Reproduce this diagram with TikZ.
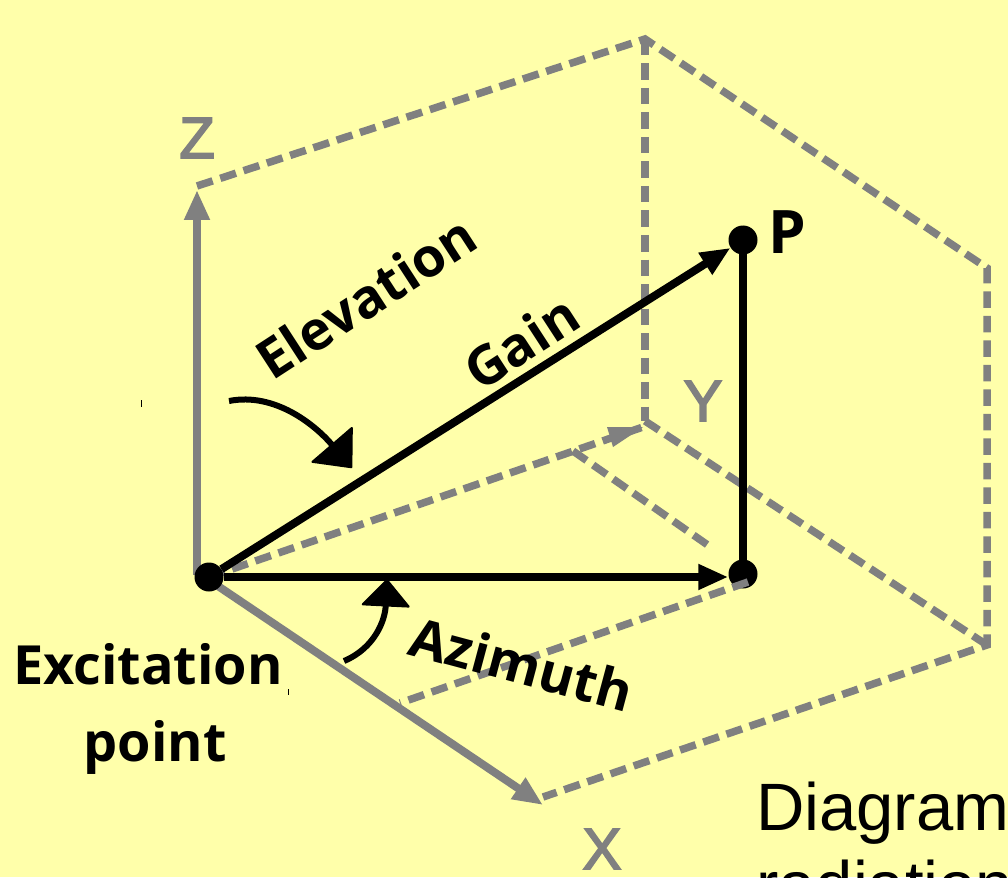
\documentclass[tikz,border=0pt]{standalone}
\usepackage{fontspec}
\setmainfont{Liberation Sans}
\newfontfamily\lab{Open Sans}
\newfontfamily\axf[FakeBold=3]{Liberation Sans}
\usetikzlibrary{arrows.meta}
\definecolor{bgy}{RGB}{255,255,170}
\definecolor{gry}{RGB}{128,128,128}
\tikzset{
 x=1pt,y=-1pt,
 axisline/.style={draw=gry,line width=8pt,-{Triangle[length=30pt,width=24pt]}},
 dashline/.style={draw=gry,line width=7.5pt,dash pattern=on 16.5pt off 8pt},
 solidline/.style={draw=black,line width=8pt},
 solidarrow/.style={solidline,-{Triangle[length=30pt,width=24pt]}},
 curveup/.style={draw=black,line width=6pt,-{Triangle[length=32pt,width=56pt,line width=2pt,round]}},
 curvelow/.style={draw=black,line width=6pt,-{Triangle[length=28pt,width=50pt,line width=2pt,round]}},
 dot/.style={circle,fill=black,inner sep=0pt,minimum size=29pt},
 boldlabel/.style={font=\lab\bfseries\fontsize{54}{54}\selectfont,text=black,inner sep=0pt},
 axislabel/.style={font=\axf\fontsize{58}{58}\selectfont,text=gry,inner sep=0pt},
 tick/.style={draw=black,line width=1pt},
}
\begin{document}
\begin{tikzpicture}
\useasboundingbox (0,0) rectangle (1008,877);
\clip (0,0) rectangle (1008,877);
\fill[bgy] (0,0) rectangle (1008,877);
\coordinate (zb) at (197,575);
\coordinate (zt) at (197,190);
\coordinate (zd) at (197,186);
\coordinate (xb) at (209,580);
\coordinate (xt) at (543,805);
\coordinate (xd) at (543,797);
\coordinate (tb) at (645,39);
\coordinate (tr) at (987,268);
\coordinate (br) at (987,645);
\coordinate (yc) at (645,421);
\coordinate (ym) at (573,451);
\coordinate (ye) at (712,548);
\coordinate (fe) at (400,703);
\coordinate (fs) at (748,582);
\coordinate (ca) at (229,401);
\coordinate (cb) at (352,468);
\coordinate (cc) at (344,661);
\coordinate (cd) at (387,579);
\coordinate (m1) at (141,400);
\coordinate (m2) at (141,407);
\coordinate (m3) at (288,689);
\coordinate (m4) at (288,695);
\coordinate (yt) at (643,427);
\coordinate (ya) at (607,427);
\coordinate (yb) at (613,447);
% dashed box
\draw[dashline] (zd) -- (tb) -- (tr) -- (br) -- (xd);
\draw[dashline] (tb) -- (yc);
\draw[dashline] (yc) -- (br);
\draw[dashline] (ym) -- (ye);
\draw[dashline] (209,577) -- (yt);
\fill[gry] (yt) -- (ya) -- (yb) -- cycle;
% axes
\draw[axisline] (zb) -- (zt);
\draw[axisline] (xb) -- (xt);
% nodes
\node[dot] (O) at (209,577) {};
\node[dot] (P) at (743,240) {};
\node[dot] (F) at (743,574) {};
\draw[solidarrow] (O) -- (P);
\draw[solidarrow] (O) -- (O -| F.west);
\draw[solidline] (P.center) -- (F.center);
\draw[dashline] (fs) -- (fe);
% curved arrows
\draw[curveup] (ca) .. controls (275,392) and (315,425) .. (cb);
\draw[curvelow] (cc) .. controls (375,648) and (385,620) .. (cd);
% labels
\node[axislabel] (Z) at (197,138) {Z};
\node[axislabel] (Y) at (703,401) {Y};
\node[axislabel] (X) at (602,849) {X};
\node[boldlabel,anchor=west,font=\lab\bfseries\fontsize{60}{60}\selectfont] (Pl) at (768,232) {P};
\node[boldlabel,rotate=33] (El) at (366,297) {Elevation};
\node[boldlabel,rotate=33] (Ga) at (521,342) {Gain};
\node[boldlabel,rotate=-15] (Az) at (522,664) {Azimuth};
\node[boldlabel] (Ex) at (148,664) {Excitation};
\node[boldlabel] (Po) at (155,747) {point};
\node[anchor=base west,inner sep=0pt,font=\fontsize{67}{67}\selectfont] (Di) at (756,830) {Diagram};
\node[anchor=base west,inner sep=0pt,font=\fontsize{67}{67}\selectfont] (Ra) at (756,908) {radiation};
% stray ticks
\draw[tick] (m1) -- (m2);
\draw[tick] (m3) -- (m4);
\end{tikzpicture}
\end{document}
